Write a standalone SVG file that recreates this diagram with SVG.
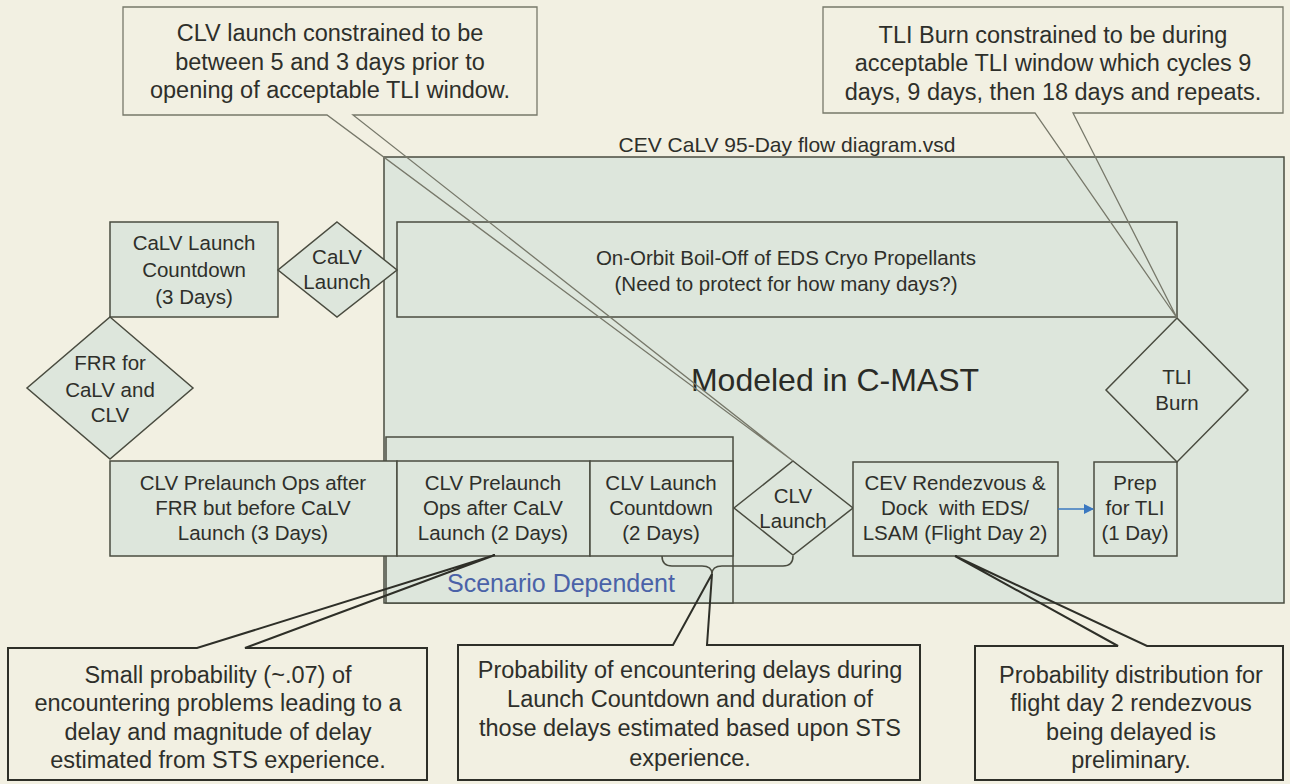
<svg xmlns="http://www.w3.org/2000/svg" width="1290" height="784" viewBox="0 0 1290 784">
<defs>
<style>
.bg{fill:#f2f0e2}
.box{fill:#dde6dc;stroke:#4a4c40;stroke-width:1.5}
.t{font-family:"Liberation Sans",Arial,sans-serif;font-size:20.5px;fill:#2e2f2a;text-anchor:middle}
.ct{font-family:"Liberation Sans",Arial,sans-serif;font-size:23.5px;fill:#2e2f2a;text-anchor:middle}
.cfill{fill:#f2f0e2;stroke:none}
.cl-top{fill:none;stroke:#77786a;stroke-width:1.3}
.cl-bot{fill:none;stroke:#2e2f28;stroke-width:2}
</style>
<marker id="ah" markerWidth="10" markerHeight="10" refX="9" refY="5" orient="auto" markerUnits="userSpaceOnUse">
<path d="M0,0 L10,5 L0,10 Z" fill="#3a78c0"/>
</marker>
</defs>
<rect class="bg" x="0" y="0" width="1290" height="784"/>

<g id="container">
<rect class="box" x="384" y="157" width="900" height="446"/>
<text x="787" y="152" style="font-family:'Liberation Sans',Arial,sans-serif;font-size:21px;fill:#2e2f2a;text-anchor:middle">CEV CaLV 95-Day flow diagram.vsd</text>
<text x="835" y="391" style="font-family:'Liberation Sans',Arial,sans-serif;font-size:32px;fill:#2a2b26;text-anchor:middle">Modeled in C-MAST</text>
</g>

<g id="scenario">
<rect class="box" x="386" y="437" width="347" height="166"/>
<text x="561" y="592" style="font-family:'Liberation Sans',Arial,sans-serif;font-size:25px;fill:#4a62a8;text-anchor:middle">Scenario Dependent</text>
</g>

<g id="boiloff">
<rect class="box" x="397" y="222" width="780" height="95"/>
<text class="t" x="786" y="265">On-Orbit Boil-Off of EDS Cryo Propellants</text>
<text class="t" x="786" y="291">(Need to protect for how many days?)</text>
</g>

<g id="calv-countdown">
<rect class="box" x="110" y="222" width="168" height="95"/>
<text class="t" x="194" y="250">CaLV Launch</text>
<text class="t" x="194" y="277">Countdown</text>
<text class="t" x="194" y="304">(3 Days)</text>
</g>

<g id="calv-launch">
<polygon class="box" points="337,222 397,270 337,317 278,270"/>
<text class="t" x="337" y="264">CaLV</text>
<text class="t" x="337" y="289">Launch</text>
</g>

<g id="frr">
<polygon class="box" points="110,317 193,388 110,459 27,388"/>
<text class="t" x="110" y="370">FRR for</text>
<text class="t" x="110" y="397">CaLV and</text>
<text class="t" x="110" y="422">CLV</text>
</g>

<g id="clv-prelaunch-frr">
<rect class="box" x="110" y="461" width="287" height="95"/>
<text class="t" x="253" y="490">CLV Prelaunch Ops after</text>
<text class="t" x="253" y="515">FRR but before CaLV</text>
<text class="t" x="253" y="540">Launch (3 Days)</text>
</g>

<g id="clv-prelaunch-calv">
<rect class="box" x="397" y="461" width="193" height="95"/>
<text class="t" x="493" y="490">CLV Prelaunch</text>
<text class="t" x="493" y="515">Ops after CaLV</text>
<text class="t" x="493" y="540">Launch (2 Days)</text>
</g>

<g id="clv-countdown">
<rect class="box" x="590" y="461" width="143" height="95"/>
<text class="t" x="661" y="490">CLV Launch</text>
<text class="t" x="661" y="515">Countdown</text>
<text class="t" x="661" y="540">(2 Days)</text>
</g>

<g id="clv-launch">
<polygon class="box" points="793,461 853,508 793,555 734,508"/>
<text class="t" x="793" y="503">CLV</text>
<text class="t" x="793" y="528">Launch</text>
</g>

<g id="cev-rendezvous">
<rect class="box" x="853" y="462" width="205" height="94"/>
<text class="t" x="955" y="490">CEV Rendezvous &amp;</text>
<text class="t" x="955" y="515" xml:space="preserve">Dock  with EDS/</text>
<text class="t" x="955" y="540">LSAM (Flight Day 2)</text>
</g>

<g id="prep-tli">
<rect class="box" x="1094" y="462" width="83" height="94"/>
<text class="t" x="1135" y="490">Prep</text>
<text class="t" x="1135" y="515">for TLI</text>
<text class="t" x="1135" y="540">(1 Day)</text>
</g>

<g id="tli-burn">
<polygon class="box" points="1177,318 1248,390 1177,462 1106,390"/>
<text class="t" x="1177" y="384">TLI</text>
<text class="t" x="1177" y="410">Burn</text>
</g>

<g id="connectors">
<line x1="1058" y1="509" x2="1093" y2="509" stroke="#3a78c0" stroke-width="1.5" marker-end="url(#ah)"/>
<path d="M662,556 Q662,566 672,566 L702,566 Q712,566 712,574 Q712,566 722,566 L783,566 Q793,566 793,556" fill="none" stroke="#4a4c40" stroke-width="1.5"/>
</g>

<g id="callout-clv">
<rect class="cfill" x="123" y="7" width="414" height="108"/>
<path class="cl-top" d="M327,115 H123 V7 H537 V115 H353 L793,461 Z"/>
<text class="ct" x="330" y="41">CLV launch constrained to be</text>
<text class="ct" x="330" y="70">between 5 and 3 days prior to</text>
<text class="ct" x="330" y="98">opening of acceptable TLI window.</text>
</g>

<g id="callout-tli">
<rect class="cfill" x="823" y="7" width="460" height="106"/>
<path class="cl-top" d="M1035,113 H823 V7 H1283 V113 H1073 L1177,318 Z"/>
<text class="ct" x="1053" y="43">TLI Burn constrained to be during</text>
<text class="ct" x="1053" y="71">acceptable TLI window which cycles 9</text>
<text class="ct" x="1053" y="100">days, 9 days, then 18 days and repeats.</text>
</g>

<g id="callout-small">
<rect class="cfill" x="8" y="648" width="419" height="132"/>
<path class="cl-bot" d="M197,648 H8 V780 H427 V648 H245 L495,555 Z"/>
<text class="ct" x="218" y="683">Small probability (~.07) of</text>
<text class="ct" x="218" y="711">encountering problems leading to a</text>
<text class="ct" x="218" y="740">delay and magnitude of delay</text>
<text class="ct" x="218" y="768">estimated from STS experience.</text>
</g>

<g id="callout-countdown">
<rect class="cfill" x="458" y="645" width="462" height="135"/>
<path class="cl-bot" d="M673,645 H458 V780 H920 V645 H707 L712,574 Z"/>
<text class="ct" x="690" y="678">Probability of encountering delays during</text>
<text class="ct" x="690" y="707">Launch Countdown and duration of</text>
<text class="ct" x="690" y="736">those delays estimated based upon STS</text>
<text class="ct" x="690" y="766">experience.</text>
</g>

<g id="callout-rendezvous">
<rect class="cfill" x="975" y="646" width="308" height="134"/>
<path class="cl-bot" d="M1118,646 H975 V780 H1283 V646 H1147 L955,556 Z"/>
<text class="ct" x="1131" y="683">Probability distribution for</text>
<text class="ct" x="1131" y="711">flight day 2 rendezvous</text>
<text class="ct" x="1131" y="740">being delayed is</text>
<text class="ct" x="1131" y="768">preliminary.</text>
</g>
</svg>
